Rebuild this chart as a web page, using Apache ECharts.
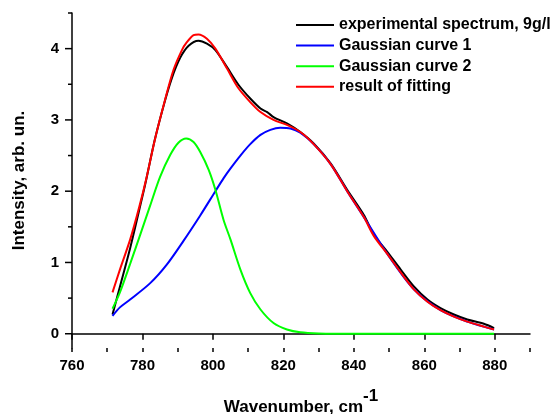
<!DOCTYPE html>
<html>
<head>
<meta charset="utf-8">
<script src="https://cdn.jsdelivr.net/npm/echarts@6/dist/echarts.min.js"></script>
<style>
  html, body { margin: 0; padding: 0; background: #fff; }
  #chart { width: 556px; height: 414px; }
</style>
</head>
<body>
<div id="chart"></div>
<script>
// experimental spectrum, 9g/l
const expX = [771.5, 773.6, 776.5, 779.1, 780.8, 783.4, 786, 788.3, 790.7, 793.1, 795.9, 798.3, 800.7, 804, 807.3, 810.6, 813.5, 815.4, 817.2, 821, 824.8, 828.6, 833.4, 838.1, 842.8, 845.7, 849.5, 853.3, 857.1, 860.9, 864.6, 868.4, 872.2, 876.9, 879.8]
const expY = [0.27, 0.66, 1.2, 1.74, 2.1, 2.7, 3.2, 3.58, 3.87, 4.04, 4.11, 4.07, 3.98, 3.74, 3.49, 3.3, 3.16, 3.11, 3.04, 2.95, 2.83, 2.67, 2.39, 2.02, 1.67, 1.39, 1.15, 0.9, 0.66, 0.48, 0.36, 0.27, 0.2, 0.14, 0.08]

// Gaussian curve 1
const g1X = [771.5, 773.6, 776.5, 782.2, 786.9, 791.6, 796.4, 800.7, 803, 805, 807.8, 810.6, 813.5, 816.3, 819.1, 822, 824.8, 828.6, 833.4, 838.1, 842.8, 849.5, 857.1, 864.6, 872.2, 879.8]
const g1Y = [0.25, 0.37, 0.48, 0.71, 0.97, 1.3, 1.66, 2.0, 2.18, 2.32, 2.5, 2.66, 2.79, 2.86, 2.89, 2.88, 2.82, 2.66, 2.38, 2.0, 1.64, 1.12, 0.62, 0.33, 0.17, 0.06]

// Gaussian curve 2
const g2X = [771.5, 773.6, 776.5, 779.3, 782.2, 785, 787.9, 790.2, 792.4, 794.5, 796.4, 798.8, 800.7, 803, 805, 807.8, 810.6, 813.5, 817.2, 821, 824.8, 830, 840, 850, 860, 870, 879.8]
const g2Y = [0.35, 0.58, 0.98, 1.38, 1.8, 2.2, 2.51, 2.68, 2.74, 2.69, 2.55, 2.3, 2.02, 1.6, 1.32, 0.9, 0.57, 0.34, 0.15, 0.06, 0.02, 0.005, 0, 0, 0, 0, 0]

// result of fitting
const fitX = [771.5, 773.6, 776.5, 779.1, 781.2, 783.6, 786.4, 788.8, 791.2, 792.6, 794.5, 795.9, 798.3, 800.7, 804, 807.3, 810.6, 813.5, 817.2, 821, 824.8, 828.6, 833.4, 838.1, 842.8, 845.7, 849.5, 853.3, 857.1, 860.9, 864.6, 868.4, 872.2, 876.9, 879.8]
const fitY = [0.58, 0.9, 1.32, 1.78, 2.2, 2.74, 3.28, 3.7, 3.98, 4.09, 4.19, 4.2, 4.14, 4.0, 3.72, 3.44, 3.25, 3.11, 3.0, 2.93, 2.83, 2.66, 2.38, 2.0, 1.64, 1.37, 1.12, 0.86, 0.62, 0.45, 0.33, 0.24, 0.17, 0.1, 0.06]

// axes / ticks
const xMin = 760
const xMax = 890
const yMin = -0.2
const yMax = 4.5
const yLabels = [0, 1, 2, 3, 4]
const yMinor = [0.5, 1.5, 2.5, 3.5, 4.5]

const font = '"Liberation Sans", Arial, sans-serif'
const zip = (xs, ys) => xs.map((x, i) => [x, ys[i]])

const line = (name, color, xs, ys) => ({
	name: name,
	type: 'line',
	symbol: 'none',
	smooth: 0.3,
	data: zip(xs, ys),
	lineStyle: { color: color, width: 2 },
	itemStyle: { color: color },
	emphasis: { disabled: true }
})

// y ticks sit off the interval grid (min is -0.2), so draw them at the axis through the scales
const yTicks = (values, len) => ({
	type: 'custom',
	silent: true,
	clip: false,
	data: values.map((v) => [xMin, v]),
	renderItem: (params, api) => {
		const p = api.coord([api.value(0), api.value(1)])
		return {
			type: 'line',
			shape: { x1: p[0] - len, y1: p[1], x2: p[0], y2: p[1] },
			style: { stroke: '#000', lineWidth: 1.5 }
		}
	}
})

const tickStyle = { color: '#000', width: 1.5 }

const chart = echarts.init(document.getElementById('chart'))
chart.setOption({
	animation: false,
	backgroundColor: '#fff',
	grid: { left: 72, right: 26, top: 13, bottom: 66, containLabel: false, outerBoundsMode: 'none' },
	legend: {
		orient: 'vertical',
		left: 296,
		top: 17,
		padding: 0,
		itemWidth: 38,
		itemHeight: 2,
		itemGap: 4.6,
		icon: 'path://M0,0L38,0L38,2L0,2Z',
		textStyle: { fontFamily: font, fontSize: 16, fontWeight: 'bold', color: '#000' },
		data: ['experimental spectrum, 9g/l', 'Gaussian curve 1', 'Gaussian curve 2', 'result of fitting']
	},
	xAxis: [
		{
			type: 'value',
			min: xMin,
			max: xMax,
			interval: 20,
			position: 'bottom',
			splitLine: { show: false },
			axisLine: { show: true, lineStyle: { color: '#000', width: 1.5 } },
			axisTick: { show: true, length: 6, lineStyle: tickStyle },
			axisLabel: { showMaxLabel: false, margin: 10, fontFamily: font, fontSize: 15, fontWeight: 'bold', color: '#000' },
			name: '{a|Wavenumber, cm}{b|-1}',
			nameLocation: 'middle',
			nameGap: 51,
			nameTextStyle: {
				rich: {
					a: { fontFamily: font, fontSize: 17, lineHeight: 17, fontWeight: 'bold', color: '#000' },
					b: { fontFamily: font, fontSize: 17, lineHeight: 17, fontWeight: 'bold', color: '#000', padding: [0, 0, 22, 0] }
				}
			}
		},
		{
			// minor ticks every 10
			type: 'value',
			min: xMin,
			max: xMax,
			interval: 10,
			position: 'bottom',
			splitLine: { show: false },
			axisLine: { show: false },
			axisLabel: { show: false },
			axisTick: { show: true, length: 4, lineStyle: tickStyle }
		}
	],
	yAxis: [
		{
			type: 'value',
			min: yMin,
			max: yMax,
			position: 'left',
			splitLine: { show: false },
			axisLine: { show: true, lineStyle: { color: '#000', width: 1.5 } },
			axisTick: { show: false },
			axisLabel: { customValues: yLabels, margin: 13, fontFamily: font, fontSize: 15, fontWeight: 'bold', color: '#000' },
			name: 'Intensity, arb. un.',
			nameLocation: 'middle',
			nameGap: 44,
			nameTextStyle: { fontFamily: font, fontSize: 17, fontWeight: 'bold', color: '#000' }
		}
	],
	series: [
		line('experimental spectrum, 9g/l', '#000000', expX, expY),
		line('Gaussian curve 1', '#0000ff', g1X, g1Y),
		line('Gaussian curve 2', '#00ff00', g2X, g2Y),
		line('result of fitting', '#ff0000', fitX, fitY),
		yTicks(yLabels, 7),
		yTicks(yMinor, 4)
	]
})
</script>
</body>
</html>
